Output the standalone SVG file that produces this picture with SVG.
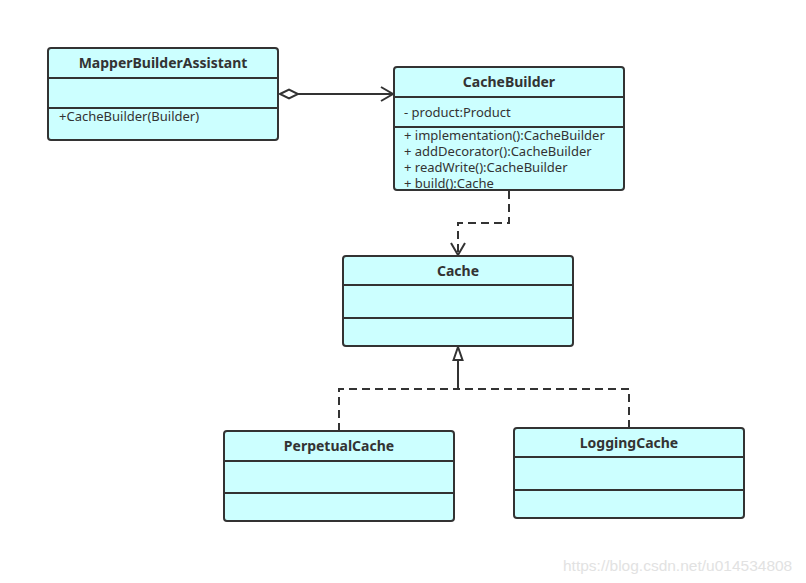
<svg xmlns="http://www.w3.org/2000/svg" width="806" height="583" viewBox="0 0 806 583">
<style>
.box{fill:#ccffff;stroke:#333;stroke-width:2}
.div{stroke:#333;stroke-width:2}
.t{font-family:"Noto Sans","Open Sans",sans-serif;font-size:14px;font-weight:bold;fill:#333;text-anchor:middle}
.m{font-family:"Noto Sans","Open Sans",sans-serif;font-size:13px;fill:#333}
.c{fill:none;stroke:#333;stroke-width:2}
.d{stroke-dasharray:8,5}
</style>
<defs>
<marker id="open" markerWidth="16" markerHeight="16" refX="14" refY="8" orient="auto" markerUnits="userSpaceOnUse">
<path d="M2,1 L14,8 L2,15" fill="none" stroke="#333" stroke-width="2"/>
</marker>
<marker id="tri" markerWidth="16" markerHeight="18" refX="14" refY="8" orient="auto" markerUnits="userSpaceOnUse">
<path d="M1,3.5 L14,8 L1,12.5 Z" fill="#fff" stroke="#333" stroke-width="2"/>
</marker>
</defs>
<rect width="806" height="583" fill="#fff"/>
<g id="connectors">
<path class="c" d="M298,94 L393,94" marker-end="url(#open)"/>
<path d="M280,94 L289,89.5 L298,94 L289,98.5 Z" fill="#fff" stroke="#333" stroke-width="2"/>
<path class="c d" d="M509,191 L509,223 L458,223 L458,255" marker-end="url(#open)"/>
<path class="c d" d="M339,431 L339,389 L458,389"/>
<path class="c d" d="M629,428 L629,389 L458,389"/>
<path class="c" d="M458,389 L458,347" marker-end="url(#tri)"/>
</g>
<g id="MapperBuilderAssistant">
<rect class="box" x="48" y="48" width="230" height="92" rx="3"/>
<line class="div" x1="48" y1="78" x2="278" y2="78"/>
<line class="div" x1="48" y1="108" x2="278" y2="108"/>
<text class="t" x="163" y="68">MapperBuilderAssistant</text>
<text class="m" x="59" y="121">+CacheBuilder(Builder)</text>
</g>
<g id="CacheBuilder">
<rect class="box" x="394" y="67" width="230" height="123" rx="3"/>
<line class="div" x1="394" y1="97" x2="624" y2="97"/>
<line class="div" x1="394" y1="127" x2="624" y2="127"/>
<text class="t" x="509" y="87">CacheBuilder</text>
<text class="m" x="404" y="117">- product:Product</text>
<text class="m" x="404" y="140">+ implementation():CacheBuilder</text>
<text class="m" x="404" y="156">+ addDecorator():CacheBuilder</text>
<text class="m" x="404" y="172">+ readWrite():CacheBuilder</text>
<text class="m" x="404" y="188">+ build():Cache</text>
</g>
<g id="Cache">
<rect class="box" x="343" y="256" width="230" height="90" rx="3"/>
<line class="div" x1="343" y1="285" x2="573" y2="285"/>
<line class="div" x1="343" y1="318" x2="573" y2="318"/>
<text class="t" x="458" y="276">Cache</text>
</g>
<g id="PerpetualCache">
<rect class="box" x="224" y="431" width="230" height="90" rx="3"/>
<line class="div" x1="224" y1="461" x2="454" y2="461"/>
<line class="div" x1="224" y1="493" x2="454" y2="493"/>
<text class="t" x="339" y="451">PerpetualCache</text>
</g>
<g id="LoggingCache">
<rect class="box" x="514" y="428" width="230" height="90" rx="3"/>
<line class="div" x1="514" y1="457" x2="744" y2="457"/>
<line class="div" x1="514" y1="490" x2="744" y2="490"/>
<text class="t" x="629" y="448">LoggingCache</text>
</g>
<text x="563" y="571" font-family="'Liberation Sans',Arial,sans-serif" font-size="15.5" fill="#e2e2e2">https://blog.csdn.net/u014534808</text>
</svg>
